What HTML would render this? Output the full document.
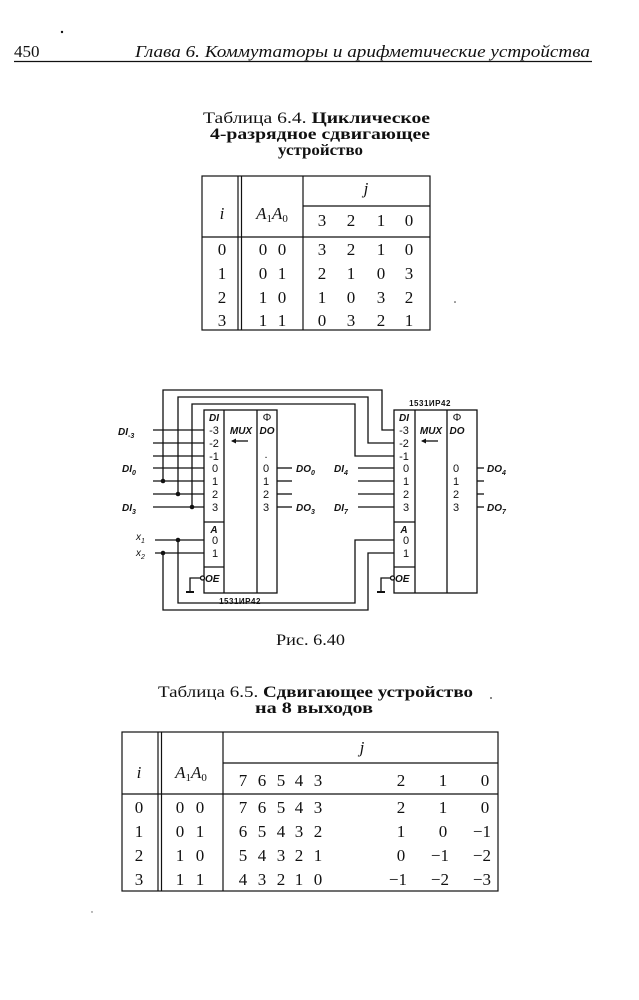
<!DOCTYPE html>
<html><head><meta charset="utf-8"><style>
html,body{margin:0;padding:0;background:#fff;}
svg{display:block;}
.s{font-family:"Liberation Serif","DejaVu Serif",serif;fill:#111;}
.m{font-family:"Liberation Sans","DejaVu Sans",sans-serif;fill:#111;font-size:11px;}
.mi{font-family:"Liberation Sans","DejaVu Sans",sans-serif;fill:#111;font-size:10px;font-style:italic;font-weight:bold;}
</style></head><body>
<svg width="639" height="1000" viewBox="0 0 639 1000" xmlns="http://www.w3.org/2000/svg">
<rect width="639" height="1000" fill="#fff"/>
<!-- header -->
<circle cx="62" cy="32" r="1.2" fill="#111"/>
<text class="s" x="14" y="57" font-size="17">450</text>
<text class="s" x="590" y="57" font-size="17" font-style="italic" text-anchor="end" textLength="455" lengthAdjust="spacingAndGlyphs">Глава 6.  Коммутаторы и арифметические устройства</text>
<line x1="14" y1="61.5" x2="592" y2="61.5" stroke="#111" stroke-width="1.3"/>

<!-- caption 6.4 -->
<g class="s" font-size="16">
<text x="203" y="123" textLength="227" lengthAdjust="spacingAndGlyphs"><tspan>Таблица 6.4. </tspan><tspan font-weight="bold">Циклическое</tspan></text>
<text x="210" y="139" font-weight="bold" textLength="220" lengthAdjust="spacingAndGlyphs">4-разрядное сдвигающее</text>
<text x="278" y="155" font-weight="bold" textLength="85" lengthAdjust="spacingAndGlyphs">устройство</text>
</g>
<!-- table 6.4 -->
<g stroke="#111" stroke-width="1.2" fill="none">
<rect x="202" y="176" width="228" height="154"/>
<line x1="238" y1="176" x2="238" y2="330"/><line x1="241.5" y1="176" x2="241.5" y2="330"/>
<line x1="303" y1="176" x2="303" y2="330"/>
<line x1="303" y1="206" x2="430" y2="206"/>
<line x1="202" y1="237" x2="430" y2="237"/>
</g>
<g class="s" font-size="17" text-anchor="middle">
<text x="366" y="194" font-style="italic">j</text>
<text x="222" y="219" font-style="italic">i</text>
<text x="272" y="219"><tspan font-style="italic">A</tspan><tspan font-size="11" dy="3">1</tspan><tspan font-style="italic" dy="-3">A</tspan><tspan font-size="11" dy="3">0</tspan></text>
<text x="322" y="226">3</text><text x="351" y="226">2</text><text x="381" y="226">1</text><text x="409" y="226">0</text>
<text x="222" y="255">0</text><text x="263" y="255">0</text><text x="282" y="255">0</text><text x="322" y="255">3</text><text x="351" y="255">2</text><text x="381" y="255">1</text><text x="409" y="255">0</text>
<text x="222" y="279">1</text><text x="263" y="279">0</text><text x="282" y="279">1</text><text x="322" y="279">2</text><text x="351" y="279">1</text><text x="381" y="279">0</text><text x="409" y="279">3</text>
<text x="222" y="303">2</text><text x="263" y="303">1</text><text x="282" y="303">0</text><text x="322" y="303">1</text><text x="351" y="303">0</text><text x="381" y="303">3</text><text x="409" y="303">2</text>
<text x="222" y="326">3</text><text x="263" y="326">1</text><text x="282" y="326">1</text><text x="322" y="326">0</text><text x="351" y="326">3</text><text x="381" y="326">2</text><text x="409" y="326">1</text>
</g>
<circle cx="455" cy="302" r="0.8" fill="#333"/>

<!-- circuit -->
<g stroke="#111" stroke-width="1.3" fill="none">
<rect x="204" y="410" width="73" height="183"/>
<line x1="224" y1="410" x2="224" y2="593"/><line x1="257" y1="410" x2="257" y2="593"/>
<line x1="204" y1="522" x2="224" y2="522"/><line x1="204" y1="567" x2="224" y2="567"/>
<rect x="394" y="410" width="83" height="183"/>
<line x1="415" y1="410" x2="415" y2="593"/><line x1="447" y1="410" x2="447" y2="593"/>
<line x1="394" y1="522" x2="415" y2="522"/><line x1="394" y1="567" x2="415" y2="567"/>
<polyline points="163,481 163,390 382,390 382,430 394,430"/>
<polyline points="178,494 178,397 368,397 368,443 394,443"/>
<polyline points="192,507 192,404 355,404 355,456 394,456"/>
<polyline points="163,553 163,610 368,610 368,553 394,553"/>
<polyline points="178,540 178,603 355,603 355,540 394,540"/>
<line x1="153" y1="430" x2="204" y2="430"/><line x1="153" y1="443" x2="204" y2="443"/>
<line x1="153" y1="456" x2="204" y2="456"/><line x1="153" y1="468" x2="204" y2="468"/>
<line x1="153" y1="481" x2="204" y2="481"/><line x1="153" y1="494" x2="204" y2="494"/>
<line x1="153" y1="507" x2="204" y2="507"/>
<line x1="155" y1="540" x2="204" y2="540"/><line x1="155" y1="553" x2="204" y2="553"/>
<line x1="358" y1="468" x2="394" y2="468"/><line x1="358" y1="481" x2="394" y2="481"/>
<line x1="358" y1="494" x2="394" y2="494"/><line x1="358" y1="507" x2="394" y2="507"/>
<line x1="277" y1="468" x2="292" y2="468"/><line x1="277" y1="481" x2="292" y2="481"/>
<line x1="277" y1="494" x2="292" y2="494"/><line x1="277" y1="507" x2="292" y2="507"/>
<line x1="477" y1="468" x2="484" y2="468"/><line x1="477" y1="481" x2="484" y2="481"/>
<line x1="477" y1="494" x2="484" y2="494"/><line x1="477" y1="507" x2="484" y2="507"/>
<polyline points="201,578 190,578 190,592"/><line x1="186" y1="592" x2="194" y2="592" stroke-width="2"/>
<polyline points="392,578 381,578 381,592"/><line x1="377" y1="592" x2="385" y2="592" stroke-width="2"/>
<circle cx="202.5" cy="578" r="2" fill="#fff"/>
<circle cx="392.5" cy="578" r="2" fill="#fff"/>
<line x1="232" y1="441" x2="248" y2="441"/><line x1="422" y1="441" x2="438" y2="441"/>
</g>
<g fill="#111">
<path d="M231,441 l5,-2.5 v5z"/><path d="M421,441 l5,-2.5 v5z"/>
<circle cx="163" cy="481" r="2.3"/><circle cx="178" cy="494" r="2.3"/><circle cx="192" cy="507" r="2.3"/>
<circle cx="178" cy="540" r="2.3"/><circle cx="163" cy="553" r="2.3"/>
</g>
<g class="m" text-anchor="middle">
<text class="mi" x="214" y="421">DI</text>
<text x="214" y="434">-3</text><text x="214" y="447">-2</text><text x="214" y="460">-1</text>
<text x="215" y="472">0</text><text x="215" y="485">1</text><text x="215" y="498">2</text><text x="215" y="511">3</text>
<text class="mi" x="214" y="533">A</text><text x="215" y="544">0</text><text x="215" y="557">1</text>
<text class="mi" x="241" y="434" font-size="9">MUX</text>
<text x="267" y="421">Φ</text><text class="mi" x="267" y="434">DO</text>
<text x="266" y="458">.</text>
<text x="266" y="472">0</text><text x="266" y="485">1</text><text x="266" y="498">2</text><text x="266" y="511">3</text>
<text class="mi" x="404" y="421">DI</text>
<text x="404" y="434">-3</text><text x="404" y="447">-2</text><text x="404" y="460">-1</text>
<text x="406" y="472">0</text><text x="406" y="485">1</text><text x="406" y="498">2</text><text x="406" y="511">3</text>
<text class="mi" x="404" y="533">A</text><text x="406" y="544">0</text><text x="406" y="557">1</text>
<text class="mi" x="431" y="434" font-size="9">MUX</text>
<text x="457" y="421">Φ</text><text class="mi" x="457" y="434">DO</text>
<text x="456" y="472">0</text><text x="456" y="485">1</text><text x="456" y="498">2</text><text x="456" y="511">3</text>
<text x="240" y="604" font-size="8" font-weight="bold" letter-spacing="0.5">1531ИР42</text>
<text x="430" y="406" font-size="8" font-weight="bold" letter-spacing="0.5">1531ИР42</text>
</g>
<text class="mi" x="205" y="582" font-size="9">OE</text>
<text class="mi" x="395" y="582" font-size="9">OE</text>
<g class="mi">
<text x="118" y="435">DI<tspan font-size="7" dy="3">-3</tspan></text>
<text x="122" y="472">DI<tspan font-size="7" dy="3">0</tspan></text>
<text x="122" y="511">DI<tspan font-size="7" dy="3">3</tspan></text>
<text x="136" y="540" font-weight="normal">x<tspan font-size="7" dy="3">1</tspan></text>
<text x="136" y="556" font-weight="normal">x<tspan font-size="7" dy="3">2</tspan></text>
<text x="296" y="472">DO<tspan font-size="7" dy="3">0</tspan></text>
<text x="296" y="511">DO<tspan font-size="7" dy="3">3</tspan></text>
<text x="334" y="472">DI<tspan font-size="7" dy="3">4</tspan></text>
<text x="334" y="511">DI<tspan font-size="7" dy="3">7</tspan></text>
<text x="487" y="472">DO<tspan font-size="7" dy="3">4</tspan></text>
<text x="487" y="511">DO<tspan font-size="7" dy="3">7</tspan></text>
</g>
<text class="s" x="276" y="645" font-size="16" textLength="69" lengthAdjust="spacingAndGlyphs">Рис. 6.40</text>

<!-- caption 6.5 -->
<g class="s" font-size="16">
<text x="158" y="697" textLength="315" lengthAdjust="spacingAndGlyphs"><tspan>Таблица 6.5. </tspan><tspan font-weight="bold">Сдвигающее устройство</tspan></text>
<text x="255" y="713" font-weight="bold" textLength="118" lengthAdjust="spacingAndGlyphs">на 8 выходов</text>
</g>
<circle cx="491" cy="698" r="0.9" fill="#333"/>
<!-- table 6.5 -->
<g stroke="#111" stroke-width="1.2" fill="none">
<rect x="122" y="732" width="376" height="159"/>
<line x1="158" y1="732" x2="158" y2="891"/><line x1="161.5" y1="732" x2="161.5" y2="891"/>
<line x1="223" y1="732" x2="223" y2="891"/>
<line x1="223" y1="763" x2="498" y2="763"/>
<line x1="122" y1="794" x2="498" y2="794"/>
</g>
<g class="s" font-size="17" text-anchor="middle">
<text x="362" y="753" font-style="italic">j</text>
<text x="139" y="778" font-style="italic">i</text>
<text x="191" y="778"><tspan font-style="italic">A</tspan><tspan font-size="11" dy="3">1</tspan><tspan font-style="italic" dy="-3">A</tspan><tspan font-size="11" dy="3">0</tspan></text>
</g>
<g class="s" font-size="17" text-anchor="middle">
<text x="243" y="786">7</text><text x="262" y="786">6</text><text x="281" y="786">5</text><text x="299" y="786">4</text><text x="318" y="786">3</text><text x="401" y="786">2</text><text x="443" y="786">1</text><text x="485" y="786">0</text>
<text x="139" y="813">0</text><text x="180" y="813">0</text><text x="200" y="813">0</text>
<text x="243" y="813">7</text><text x="262" y="813">6</text><text x="281" y="813">5</text><text x="299" y="813">4</text><text x="318" y="813">3</text><text x="401" y="813">2</text><text x="443" y="813">1</text><text x="485" y="813">0</text>
<text x="139" y="837">1</text><text x="180" y="837">0</text><text x="200" y="837">1</text>
<text x="243" y="837">6</text><text x="262" y="837">5</text><text x="281" y="837">4</text><text x="299" y="837">3</text><text x="318" y="837">2</text><text x="401" y="837">1</text><text x="443" y="837">0</text>
<text x="139" y="861">2</text><text x="180" y="861">1</text><text x="200" y="861">0</text>
<text x="243" y="861">5</text><text x="262" y="861">4</text><text x="281" y="861">3</text><text x="299" y="861">2</text><text x="318" y="861">1</text><text x="401" y="861">0</text>
<text x="139" y="885">3</text><text x="180" y="885">1</text><text x="200" y="885">1</text>
<text x="243" y="885">4</text><text x="262" y="885">3</text><text x="281" y="885">2</text><text x="299" y="885">1</text><text x="318" y="885">0</text>
</g>
<g class="s" font-size="17" text-anchor="end">
<text x="491" y="837">−1</text>
<text x="449" y="861">−1</text><text x="491" y="861">−2</text>
<text x="407" y="885">−1</text><text x="449" y="885">−2</text><text x="491" y="885">−3</text>
</g>
<circle cx="92" cy="912" r="0.7" fill="#555"/>
</svg>
</body></html>
